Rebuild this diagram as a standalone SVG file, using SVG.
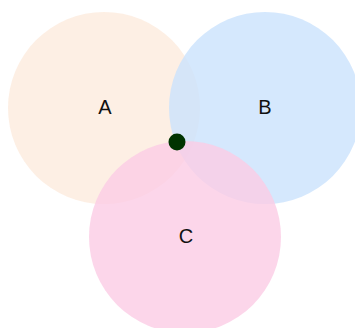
<svg xmlns="http://www.w3.org/2000/svg" width="355" height="328" viewBox="0 0 355 328">
<style>
.lbl{font-family:"Liberation Sans",Arial,sans-serif;font-size:20px;fill:#111;text-anchor:middle}
.c{fill-opacity:0.8}
</style>
<rect width="355" height="328" fill="#fff"/>
<g id="A"><circle class="c" cx="104" cy="108" r="96" fill="#fdebdd"/><text class="lbl" x="105" y="114">A</text></g>
<g id="B"><circle class="c" cx="265" cy="108" r="96" fill="#cae2fc"/><text class="lbl" x="265" y="114">B</text></g>
<g id="C"><circle class="c" cx="185" cy="237" r="96" fill="#fbcce5"/><text class="lbl" x="186" y="243">C</text></g>
<g id="connectors"></g>
<g id="dot"><circle cx="177" cy="142" r="8.5" fill="#003300"/></g>
</svg>
